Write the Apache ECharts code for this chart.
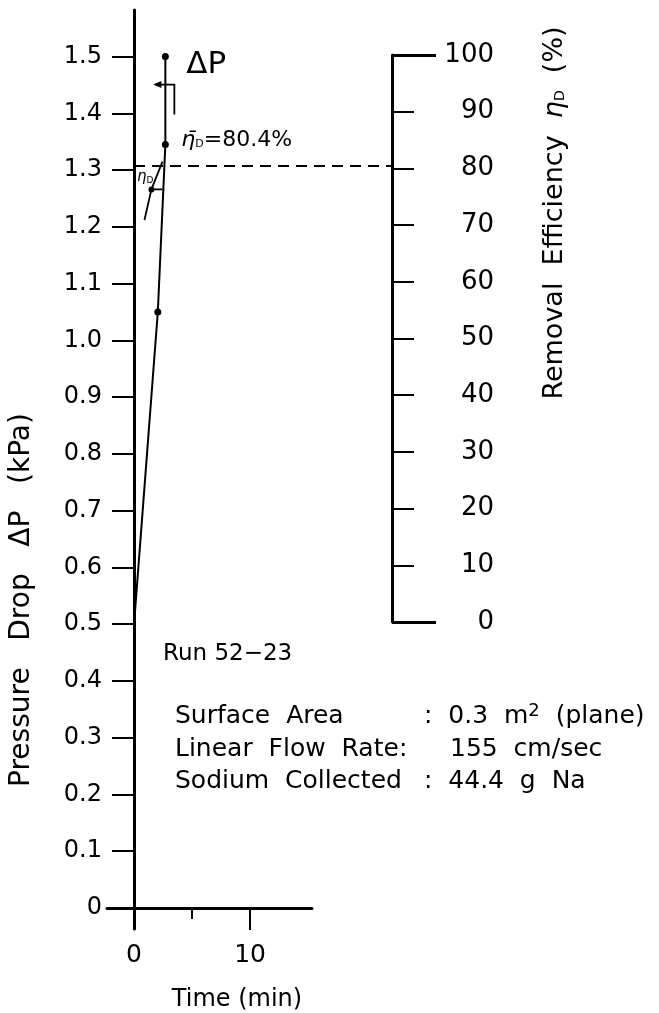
<!DOCTYPE html>
<html>
<head>
<meta charset="utf-8">
<script src="https://cdn.jsdelivr.net/npm/echarts@6/dist/echarts.min.js"></script>
<style>
  html, body { margin: 0; padding: 0; background: #fff; }
  #chart { width: 659px; height: 1013px; }
</style>
</head>
<body>
<div id="chart"></div>
<script>
// Pressure drop across the filter vs. time
const timeMin = [0, 2.05, 2.7, 2.7];
const pressureDrop = [0.5, 1.05, 1.345, 1.5];

// Removal efficiency vs. time
const effTime = [0.9, 1.5, 2.45];
const removalEff = [70.9, 76.3, 81.2];
const meanEff = 80.4;

// Tick values and labels
const pressureTicks = [0, 0.1, 0.2, 0.3, 0.4, 0.5, 0.6, 0.7, 0.8, 0.9, 1.0, 1.1, 1.2, 1.3, 1.4, 1.5];
const effTicks = [0, 10, 20, 30, 40, 50, 60, 70, 80, 90, 100];
const timeLabels = [0, 10];
const timeMinor = [5];

const FONT = 'DejaVu Sans';
const INK = '#000';

const X_MIN = -2.33, X_MAX = 15.34, X_MAX_RIGHT = 22.24;
const Y_MIN = -0.037, Y_MAX = 1.582;

const chart = echarts.init(document.getElementById('chart'), null, { renderer: 'canvas' });

const option = {
  backgroundColor: '#fff',
  animation: false,
  grid: [
    { left: 107, right: 347, top: 10, bottom: 84 },
    { left: 107, right: 267, top: 55, bottom: 391 }
  ],
  xAxis: [
    {
      gridIndex: 0, type: 'value', min: X_MIN, max: X_MAX,
      axisLine: { onZero: true, lineStyle: { color: INK, width: 3 } },
      axisTick: { customValues: [10], length: 22, lineStyle: { color: INK, width: 2 } },
      axisLabel: { customValues: timeLabels, margin: 14, color: INK, fontFamily: FONT, fontSize: 25 },
      splitLine: { show: false }
    },
    {
      gridIndex: 1, type: 'value', min: X_MIN, max: X_MAX_RIGHT, show: false
    },
    {
      gridIndex: 0, type: 'value', min: X_MIN, max: X_MAX, position: 'bottom', offset: -21,
      axisLine: { show: false, onZero: false },
      axisTick: { customValues: timeMinor, length: 11, lineStyle: { color: INK, width: 2 } },
      axisLabel: { show: false },
      splitLine: { show: false }
    }
  ],
  yAxis: [
    {
      gridIndex: 0, type: 'value', min: Y_MIN, max: Y_MAX, position: 'left',
      axisLine: { onZero: true, lineStyle: { color: INK, width: 3 } },
      axisTick: { customValues: pressureTicks, length: 22, lineStyle: { color: INK, width: 2 } },
      axisLabel: {
        customValues: pressureTicks, margin: 5, color: INK, fontFamily: FONT, fontSize: 24,
        formatter: v => (v === 0 ? '0' : v.toFixed(1))
      },
      splitLine: { show: false }
    },
    {
      gridIndex: 1, type: 'value', min: 0, max: 100, position: 'right',
      axisLine: { onZero: false, lineStyle: { color: INK, width: 3 } },
      axisTick: { customValues: effTicks, length: 22, lineStyle: { color: INK, width: 2 } },
      axisLabel: {
        customValues: effTicks, margin: 102, align: 'right', color: INK, fontFamily: FONT, fontSize: 26
      },
      splitLine: { show: false }
    },
    {
      gridIndex: 1, type: 'value', min: 0, max: 100, position: 'right',
      axisLine: { show: false, onZero: false },
      axisTick: { customValues: [0, 100], length: 44, lineStyle: { color: INK, width: 3 } },
      axisLabel: { show: false },
      splitLine: { show: false }
    }
  ],
  series: [
    {
      name: 'Pressure Drop',
      type: 'line',
      xAxisIndex: 0, yAxisIndex: 0,
      data: timeMin.map((t, i) => (i === 0
        ? { value: [t, pressureDrop[i]], symbol: 'none' }
        : { value: [t, pressureDrop[i]] })),
      symbol: 'circle', symbolSize: 7,
      itemStyle: { color: INK },
      lineStyle: { color: INK, width: 2 },
      z: 5
    },
    {
      name: 'Removal Efficiency',
      type: 'line',
      xAxisIndex: 1, yAxisIndex: 1,
      data: effTime.map((t, i) => (i === 1
        ? { value: [t, removalEff[i]] }
        : { value: [t, removalEff[i]], symbol: 'none' })),
      symbol: 'circle', symbolSize: 6,
      itemStyle: { color: INK },
      lineStyle: { color: INK, width: 1.8 },
      markLine: {
        silent: true, symbol: 'none', label: { show: false },
        lineStyle: { color: INK, width: 1.8, type: [11, 7] },
        data: [[{ coord: [0, meanEff] }, { coord: [X_MAX_RIGHT, meanEff] }]]
      },
      z: 5
    }
  ]
};

chart.setOption(option);

// Annotations anchored to the plotted points
const toPx = (xi, yi, v) => chart.convertToPixel({ xAxisIndex: xi, yAxisIndex: yi }, v);
const topPt = toPx(0, 0, [timeMin[3], pressureDrop[3]]);
const midPt = toPx(1, 1, [effTime[1], removalEff[1]]);
const meanY = toPx(1, 1, [0, meanEff])[1];

const ly = topPt[1] + 28;
const lx0 = topPt[0] - 10, lx1 = topPt[0] + 9;

const etaRich = {
  i: { fontFamily: FONT, fontStyle: 'italic', fontSize: 22, fill: INK },
  s: { fontFamily: FONT, fontSize: 11, fill: INK, padding: [9, 0, 0, 0] },
  t: { fontFamily: FONT, fontSize: 22, fill: INK },
  si: { fontFamily: FONT, fontStyle: 'italic', fontSize: 15, fill: INK },
  ss: { fontFamily: FONT, fontSize: 9, fill: INK, padding: [6, 0, 0, 0] },
  ri: { fontFamily: FONT, fontStyle: 'italic', fontSize: 27, fill: INK },
  rs: { fontFamily: FONT, fontSize: 14, fill: INK, padding: [11, 0, 0, 0] },
  rt: { fontFamily: FONT, fontSize: 27, fill: INK }
};

const ROW = 25;
const rowText = (x, y, text, extra) => ({
  type: 'text', x, y,
  style: Object.assign({ text, fontFamily: FONT, fontSize: ROW, fill: INK, verticalAlign: 'middle' }, extra || {})
});

const graphics = [
  // ΔP leader
  { type: 'polyline', shape: { points: [[lx0, ly], [lx1, ly], [lx1, ly + 30]] },
    style: { stroke: INK, lineWidth: 1.8, fill: null }, z: 10 },
  { type: 'polygon', shape: { points: [[lx0 - 2, ly], [lx0 + 6, ly - 3.5], [lx0 + 6, ly + 3.5]] },
    style: { fill: INK }, z: 10 },
  { type: 'text', x: topPt[0] + 21, y: topPt[1] + 8,
    style: { text: 'ΔP', fontFamily: FONT, fontSize: 31, fill: INK, verticalAlign: 'middle' }, z: 10 },
  // mean efficiency label
  { type: 'text', x: topPt[0] + 16, y: meanY - 26,
    style: { text: '{i|η̄}{s|D}{t|=80.4%}', rich: etaRich, verticalAlign: 'middle' }, z: 10 },
  // efficiency leader and label
  { type: 'line', shape: { x1: midPt[0], y1: midPt[1], x2: midPt[0] + 11, y2: midPt[1] },
    style: { stroke: INK, lineWidth: 1.8 }, z: 10 },
  { type: 'text', x: 137, y: midPt[1] - 12,
    style: { text: '{si|η}{ss|D}', rich: etaRich, verticalAlign: 'middle' }, z: 10 },
  // axis titles
  { type: 'text', x: 22, y: 600, rotation: Math.PI / 2,
    style: { text: 'Pressure   Drop   ΔP   (kPa)', fontFamily: FONT, fontSize: 28, fill: INK,
             align: 'center', verticalAlign: 'middle' } },
  { type: 'text', x: 555, y: 213, rotation: Math.PI / 2,
    style: { text: '{rt|Removal  Efficiency  }{ri|η}{rs|D}{rt|  (%)}', rich: etaRich,
             align: 'center', verticalAlign: 'middle' } },
  { type: 'text', x: 237, y: 1000,
    style: { text: 'Time (min)', fontFamily: FONT, fontSize: 24, fill: INK,
             align: 'center', verticalAlign: 'middle' } },
  // run conditions
  rowText(163, 654, 'Run 52−23', { fontSize: 23 }),
  rowText(175, 716, 'Surface  Area'),
  rowText(424, 716, ':  0.3  m{sup|2}  (plane)',
          { rich: { sup: { fontFamily: FONT, fontSize: 18, fill: INK, padding: [0, 0, 9, 0] } } }),
  rowText(175, 749, 'Linear  Flow  Rate:'),
  rowText(450, 749, '155  cm/sec'),
  rowText(175, 781, 'Sodium  Collected'),
  rowText(424, 781, ':  44.4  g  Na')
];

chart.setOption({ graphic: graphics });
</script>
</body>
</html>
